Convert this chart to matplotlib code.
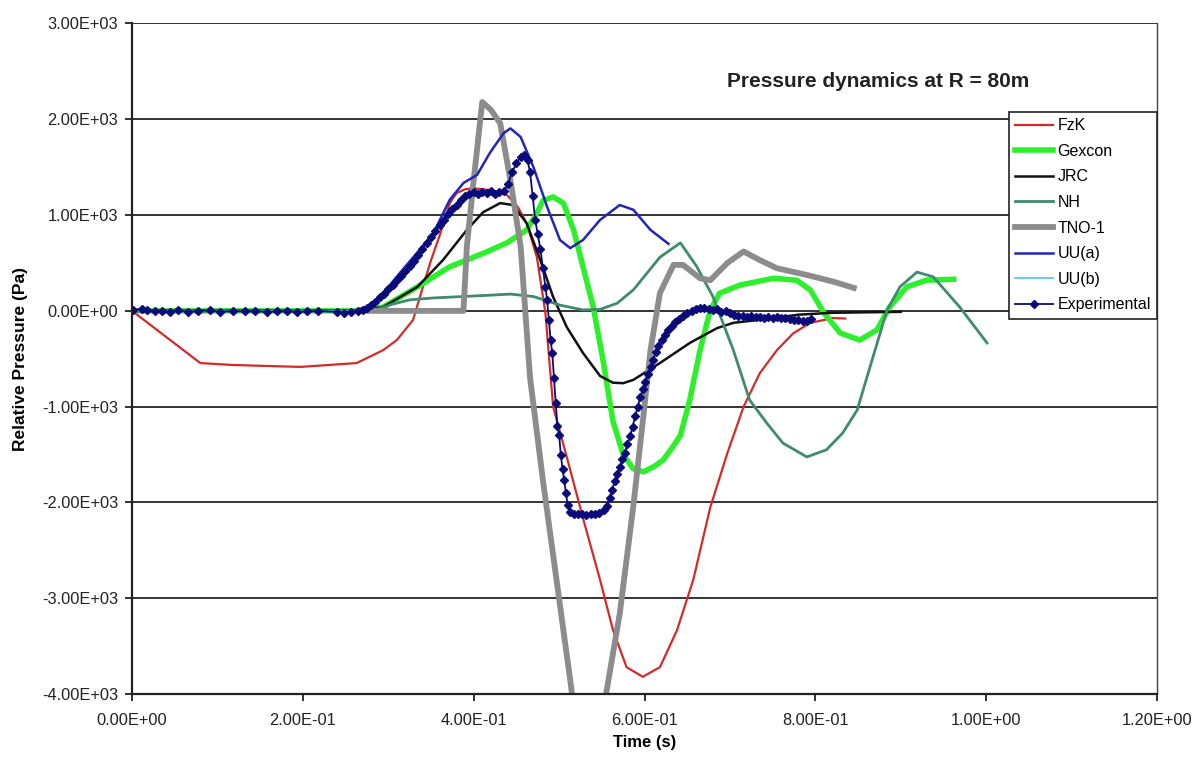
import matplotlib
matplotlib.use("Agg")
import matplotlib.pyplot as plt
from matplotlib.ticker import FixedLocator, FuncFormatter

plt.rcParams['font.family'] = ['Liberation Sans', 'DejaVu Sans']

# FzK
fzk_t = [0.0, 0.080, 0.118, 0.197, 0.263, 0.294, 0.310, 0.329, 0.337, 0.349, 0.361, 0.372,
         0.380, 0.390, 0.400, 0.420, 0.439, 0.452, 0.462, 0.474, 0.484, 0.493, 0.510, 0.530,
         0.548, 0.563, 0.579, 0.598, 0.618, 0.638, 0.657, 0.677, 0.697, 0.716, 0.735, 0.755,
         0.774, 0.794, 0.821, 0.835]
fzk_p = [0, -545, -565, -585, -545, -410, -305, -95, 145, 500, 810, 1125,
         1230, 1270, 1280, 1260, 1210, 1080, 915, 560, -25, -1000, -1560, -2230,
         -2810, -3330, -3720, -3820, -3720, -3335, -2810, -2050, -1485, -1000, -650, -410,
         -235, -125, -75, -80]

# Gexcon
gex_t = [0.0, 0.270, 0.294, 0.334, 0.372, 0.411, 0.439, 0.462, 0.474, 0.481, 0.493, 0.505,
         0.517, 0.528, 0.540, 0.552, 0.563, 0.575, 0.587, 0.599, 0.612, 0.622, 0.633, 0.642,
         0.653, 0.665, 0.677, 0.688, 0.712, 0.751, 0.778, 0.794, 0.810, 0.829, 0.852, 0.872,
         0.887, 0.907, 0.930, 0.962]
gex_p = [0, 0, 40, 250, 460, 600, 710, 845, 1020, 1150, 1190, 1125,
         845, 460, 40, -545, -1150, -1500, -1650, -1680, -1620, -1555, -1420, -1300,
         -930, -410, 10, 185, 270, 340, 320, 220, -20, -230, -305, -200,
         40, 250, 320, 330]

# JRC
jrc_t = [0.0, 0.270, 0.294, 0.334, 0.364, 0.392, 0.411, 0.431, 0.446, 0.462, 0.478, 0.493,
         0.509, 0.528, 0.548, 0.563, 0.575, 0.587, 0.618, 0.653, 0.685, 0.704, 0.743, 0.780,
         0.820, 0.900]
jrc_p = [0, 0, 40, 250, 530, 845, 1030, 1125, 1105, 915, 530, 145,
         -170, -440, -680, -750, -755, -720, -545, -335, -180, -125, -85, -40,
         -20, -10]

# NH
nh_t = [0.0, 0.270, 0.286, 0.305, 0.325, 0.353, 0.411, 0.443, 0.470, 0.501, 0.528, 0.548,
        0.568, 0.587, 0.618, 0.642, 0.661, 0.680, 0.704, 0.723, 0.743, 0.762, 0.790, 0.813,
        0.832, 0.849, 0.864, 0.884, 0.899, 0.919, 0.938, 0.969, 1.001]
nh_p = [0, 0, 10, 70, 115, 135, 160, 175, 150, 60, 10, 15,
        80, 220, 560, 710, 465, 150, -410, -930, -1170, -1380, -1525, -1450,
        -1275, -1035, -585, 10, 250, 405, 355, 40, -335]

# TNO-1
tno_t = [0.270, 0.388, 0.392, 0.400, 0.410, 0.420, 0.431, 0.443, 0.455, 0.466, 0.481, 0.497,
         0.513, 0.536, 0.555, 0.571, 0.587, 0.599, 0.607, 0.618, 0.634, 0.645, 0.665, 0.677,
         0.697, 0.716, 0.735, 0.755, 0.790, 0.821, 0.845]
tno_p = [0, 0, 670, 1365, 2180, 2100, 1960, 1365, 670, -700, -1765, -2810,
         -3855, -5430, -4000, -3160, -2030, -1070, -410, 185, 480, 480, 340, 320,
         500, 620, 530, 445, 375, 305, 240]

# UU(a)
uua_t = [0.0, 0.260, 0.280, 0.300, 0.314, 0.335, 0.353, 0.372, 0.388, 0.404, 0.419, 0.435,
         0.443, 0.455, 0.470, 0.486, 0.501, 0.513, 0.528, 0.548, 0.571, 0.587, 0.607, 0.628]
uua_p = [0, 0, 60, 250, 400, 620, 815, 1160, 1335, 1420, 1650, 1855,
         1905, 1815, 1500, 1085, 740, 655, 740, 950, 1105, 1055, 845, 700]

# UU(b)
uub_t = [0.0, 0.260, 0.280, 0.300, 0.320, 0.340, 0.360]
uub_p = [0, 0, 40, 200, 380, 600, 880]

# Experimental
exp_t = [0.001, 0.012, 0.018, 0.027, 0.035, 0.044, 0.054, 0.066, 0.077, 0.091, 0.103, 0.118,
         0.132, 0.144, 0.158, 0.170, 0.181, 0.193, 0.205, 0.218, 0.240, 0.248, 0.256, 0.265,
         0.270, 0.275, 0.280, 0.285, 0.290, 0.295, 0.300, 0.305, 0.310, 0.315, 0.320, 0.325,
         0.330, 0.335, 0.340, 0.345, 0.350, 0.355, 0.360, 0.365, 0.370, 0.375, 0.380, 0.385,
         0.390, 0.395, 0.400, 0.405, 0.410, 0.415, 0.420, 0.425, 0.430, 0.435, 0.440, 0.445,
         0.450, 0.455, 0.459, 0.463, 0.466, 0.469, 0.472, 0.475, 0.478, 0.481, 0.484, 0.486,
         0.488, 0.490, 0.492, 0.494, 0.496, 0.498, 0.500, 0.502, 0.504, 0.506, 0.508, 0.510,
         0.513, 0.517, 0.522, 0.527, 0.532, 0.537, 0.542, 0.547, 0.552, 0.556, 0.559, 0.562,
         0.565, 0.568, 0.571, 0.574, 0.577, 0.580, 0.583, 0.586, 0.589, 0.592, 0.595, 0.598,
         0.601, 0.604, 0.607, 0.610, 0.613, 0.616, 0.620, 0.624, 0.628, 0.632, 0.636, 0.640,
         0.645, 0.650, 0.655, 0.660, 0.665, 0.670, 0.675, 0.680, 0.685, 0.690, 0.695, 0.700,
         0.705, 0.710, 0.715, 0.720, 0.725, 0.730, 0.735, 0.740, 0.745, 0.750, 0.755, 0.760,
         0.765, 0.770, 0.775, 0.780, 0.785, 0.790, 0.795]
exp_p = [10, 20, 5, -5, 0, -10, 5, -10, 0, 5, -10, 0,
         -5, 0, -10, -5, 0, -10, -5, 0, -10, -20, -10, 0,
         10, 30, 60, 90, 140, 180, 230, 270, 320, 360, 420, 470,
         520, 580, 650, 710, 770, 830, 900, 950, 1010, 1060, 1110, 1160,
         1200, 1220, 1240, 1225, 1240, 1230, 1250, 1220, 1240, 1250, 1320, 1450,
         1540, 1610, 1630, 1570, 1450, 1200, 950, 800, 650, 450, 250, 110,
         -100, -300, -440, -700, -960, -1200, -1300, -1500, -1650, -1770, -1900, -2030,
         -2100, -2120, -2125, -2120, -2130, -2120, -2125, -2115, -2080, -2040, -1950, -1870,
         -1780, -1700, -1630, -1550, -1480, -1390, -1310, -1210, -1100, -1000, -900, -820,
         -740, -660, -590, -510, -430, -370, -300, -250, -200, -160, -120, -90,
         -50, -20, 0, 15, 25, 30, 20, 10, 15, -10, -5, -20,
         -40, -50, -55, -60, -50, -65, -60, -70, -60, -70, -65, -70,
         -75, -90, -100, -100, -110, -105, -90]

x_ticks = [0.0, 0.2, 0.4, 0.6, 0.8, 1.0, 1.2]
y_ticks = [-4000, -3000, -2000, -1000, 0, 1000, 2000, 3000]

fig = plt.figure(figsize=(11.97, 7.58), dpi=100)
ax = fig.add_axes([0.1103, 0.0844, 0.8563, 0.8846])

ax.plot(fzk_t, fzk_p, color='#d42a2a', lw=1.6, label='FzK')
ax.plot(gex_t, gex_p, color='#2cf02c', lw=4.0, label='Gexcon')
ax.plot(jrc_t, jrc_p, color='#111111', lw=1.8, label='JRC')
ax.plot(nh_t, nh_p, color='#3f8a70', lw=2.0, label='NH')
ax.plot(tno_t, tno_p, color='#8c8c8c', lw=4.2, label='TNO-1')
ax.plot(uua_t, uua_p, color='#2424b8', lw=1.8, label='UU(a)')
ax.plot(uub_t, uub_p, color='#4fc3ee', lw=1.2, label='UU(b)')
ax.plot(exp_t, exp_p, color='#0a0a7a', lw=1.3, marker='D', markersize=4.4,
        markerfacecolor='#0a0a7a', markeredgecolor='#0a0a7a', label='Experimental')

ax.set_xlim(0, 1.2)
ax.set_ylim(-4000, 3000)
ax.xaxis.set_major_locator(FixedLocator(x_ticks))
ax.yaxis.set_major_locator(FixedLocator(y_ticks))
ax.xaxis.set_major_formatter(FuncFormatter(lambda v, pos: '%.2E' % v))
ax.yaxis.set_major_formatter(FuncFormatter(lambda v, pos: '%.2E' % v))
ax.tick_params(axis='both', direction='out', length=5, width=1.3, labelsize=11.8,
               colors='#222222')
ax.tick_params(axis='y', pad=5)
ax.tick_params(axis='x', pad=9)
ax.grid(axis='y', color='#111111', lw=1.2)
ax.set_axisbelow(True)
for side in ['left', 'bottom']:
    ax.spines[side].set_linewidth(1.6)
    ax.spines[side].set_color('#222222')
ax.spines['top'].set_visible(False)
ax.spines['right'].set_linewidth(1.0)
ax.spines['right'].set_color('#444444')

ax.set_xlabel('Time (s)', fontsize=12, fontweight='bold', labelpad=5)
ax.set_ylabel('Relative Pressure (Pa)', fontsize=12.5, fontweight='bold', labelpad=10)
ax.text(0.728, 0.913, 'Pressure dynamics at R = 80m', transform=ax.transAxes,
        ha='center', va='center', fontsize=15, fontweight='bold', color='#222222')

leg = ax.legend(loc='upper right', bbox_to_anchor=(1.0, 0.868), borderaxespad=0,
                fontsize=11.5, frameon=True, fancybox=False, framealpha=1,
                edgecolor='#222222', handlelength=2.4, handletextpad=0.25,
                labelspacing=0.66, borderpad=0.4)
leg.get_frame().set_linewidth(1.2)

fig.savefig('out.png', dpi=100)
